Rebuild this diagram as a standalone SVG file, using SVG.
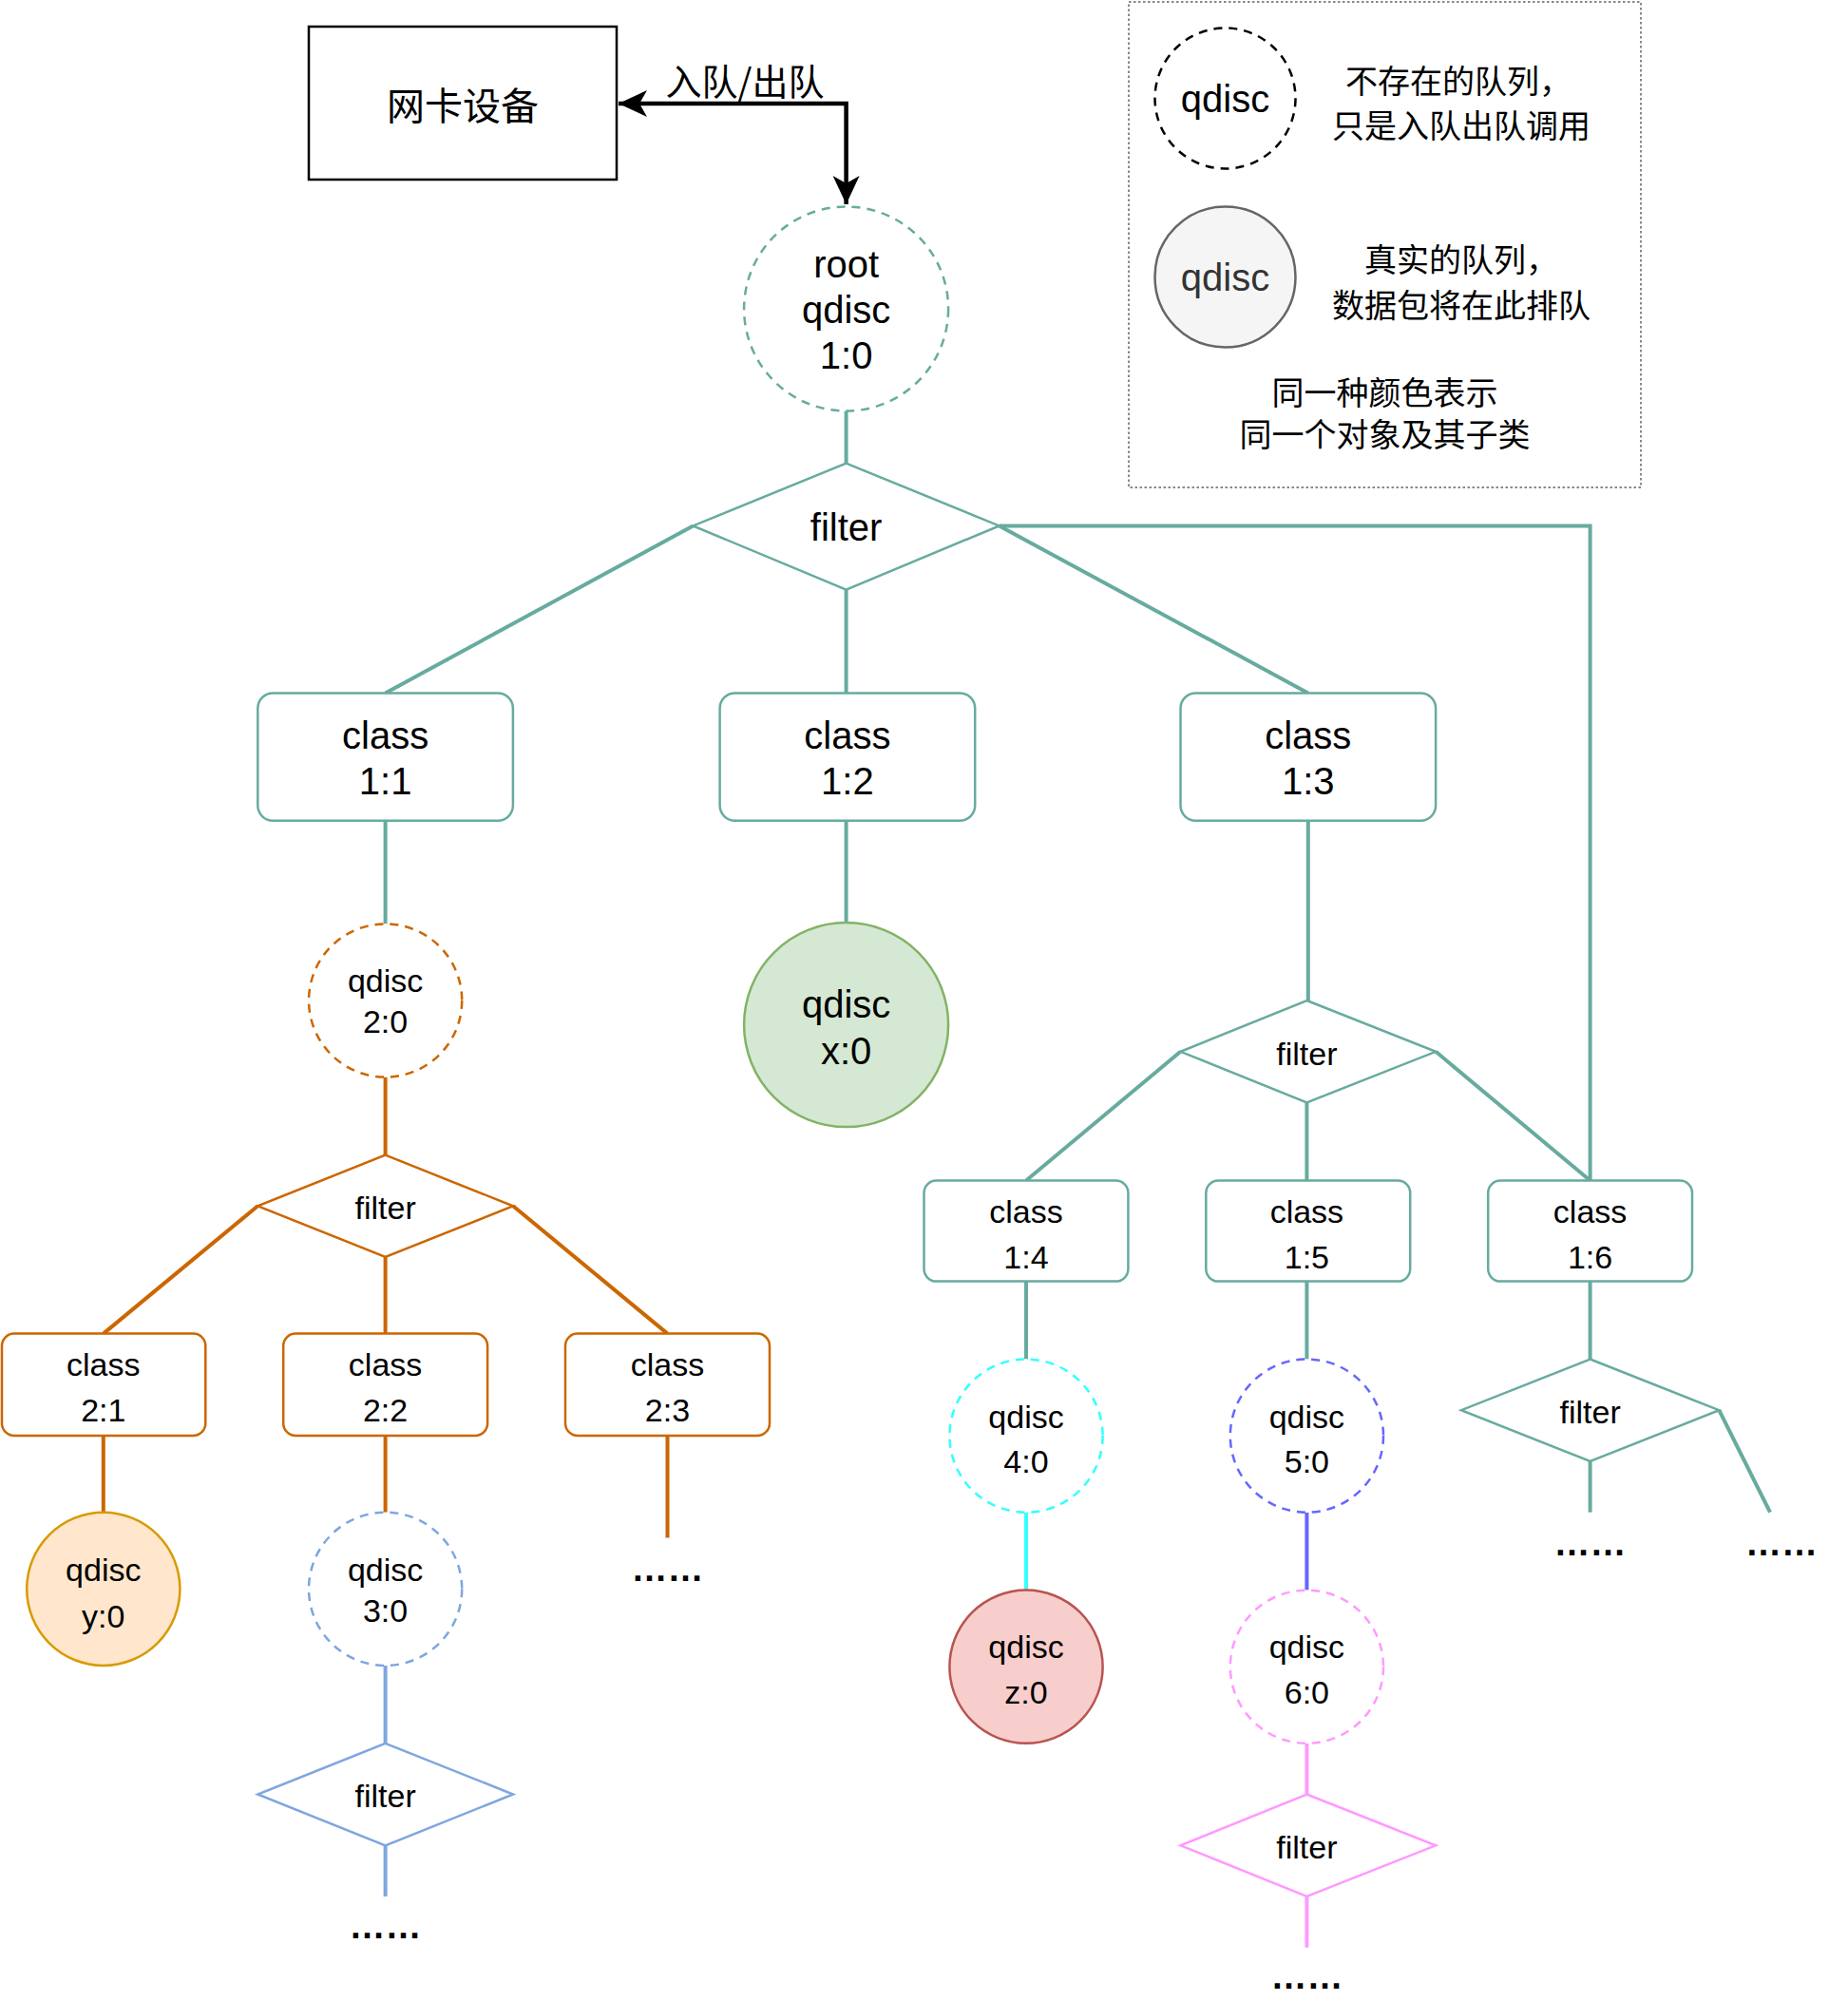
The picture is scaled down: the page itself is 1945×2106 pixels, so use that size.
<svg xmlns="http://www.w3.org/2000/svg" width="1945" height="2106" viewBox="0 0 1945 2106">
<defs>
<style>
text{font-family:"Liberation Sans","Noto Sans CJK SC",sans-serif;fill:#000;text-anchor:middle;dominant-baseline:central}
.big{font-size:40px}
.mid{font-size:34px}
.cjk{font-size:34px;font-family:"Noto Sans CJK SC","Liberation Sans",sans-serif}
.dots{font-size:38px;font-weight:bold;dominant-baseline:alphabetic}
.c{fill:none;stroke-width:4}
.teal{stroke:#67AB9F}
.org{stroke:#CC6600}
.blue{stroke:#7EA6E0}
.cyan{stroke:#33FFFF}
.vio{stroke:#6666FF}
.pink{stroke:#FF99FF}
.box{fill:#fff;stroke-width:2.5}
.dash{fill:#fff;stroke-width:2.5;stroke-dasharray:9 7}
</style>
<marker id="ah" markerUnits="userSpaceOnUse" markerWidth="32" markerHeight="32" viewBox="0 -16 32 32" refX="30" refY="0" orient="auto-start-reverse">
<path d="M0,-14 L30,0 L0,14 L8,0 Z" fill="#000"/>
</marker>
</defs>
<rect width="1945" height="2106" fill="#fff"/>

<g id="connectors">
<path d="M651,109 H890.6 V215" fill="none" stroke="#000" stroke-width="4.5" marker-start="url(#ah)" marker-end="url(#ah)"/>
<path class="c teal" d="M890.6,432.5 V487.6"/>
<path class="c teal" d="M729.4,553.4 L405.6,729.4"/>
<path class="c teal" d="M890.6,620.6 V729.4"/>
<path class="c teal" d="M1051.7,553.4 L1376.8,729.4"/>
<path class="c teal" d="M1051.7,553.4 H1673.6 V1242.5"/>
<path class="c teal" d="M405.6,863.7 V972.4"/>
<path class="c teal" d="M890.6,863.7 V971.1"/>
<path class="c teal" d="M1376.8,863.7 V1053"/>
<path class="c teal" d="M1242.5,1106.8 L1080,1242.5"/>
<path class="c teal" d="M1375.4,1160.5 V1242.5"/>
<path class="c teal" d="M1511.1,1106.8 L1673.6,1242.5"/>
<path class="c teal" d="M1080,1348.6 V1430.5"/>
<path class="c teal" d="M1375.4,1348.6 V1430.5"/>
<path class="c teal" d="M1673.6,1348.6 V1430.5"/>
<path class="c teal" d="M1673.6,1538 V1591.7"/>
<path class="c teal" d="M1809.3,1484.2 L1863,1591.7"/>
<path class="c org" d="M405.6,1133.6 V1215.6"/>
<path class="c org" d="M271.3,1269.3 L108.8,1403.6"/>
<path class="c org" d="M405.6,1323 V1403.6"/>
<path class="c org" d="M540,1269.3 L702.5,1403.6"/>
<path class="c org" d="M108.8,1511 V1591.7"/>
<path class="c org" d="M405.6,1511 V1591.7"/>
<path class="c org" d="M702.5,1511 V1618.5"/>
<path class="c blue" d="M405.6,1752.9 V1834.8"/>
<path class="c blue" d="M405.6,1942.3 V1996"/>
<path class="c cyan" d="M1080,1591.7 V1673.6"/>
<path class="c vio" d="M1375.4,1591.7 V1673.6"/>
<path class="c pink" d="M1375.4,1834.8 V1888.5"/>
<path class="c pink" d="M1375.4,1996 V2049.7"/>
</g>

<g id="nic">
<rect x="325" y="28" width="324" height="161" fill="#fff" stroke="#000" stroke-width="2.5"/>
<text x="487" y="109" class="cjk" style="font-size:40px">网卡设备</text>
</g>
<text id="arrow-label" x="784" y="83" class="cjk" style="font-size:38px">入队/出队</text>

<g id="legend">
<rect x="1188" y="2" width="539" height="511" fill="none" stroke="#888" stroke-width="2" stroke-dasharray="2.5 2.5"/>
<circle cx="1289.5" cy="103.5" r="74" fill="#fff" stroke="#000" stroke-width="2.5" stroke-dasharray="9 7"/>
<text x="1289.5" y="103.5" class="big">qdisc</text>
<text x="1535" y="83" class="cjk">不存在的队列，</text>
<text x="1538" y="130" class="cjk">只是入队出队调用</text>
<circle cx="1289.5" cy="291.5" r="74" fill="#F5F5F5" stroke="#666" stroke-width="2.5"/>
<text x="1289.5" y="291.5" class="big" style="fill:#333">qdisc</text>
<text x="1538" y="271" class="cjk">真实的队列，</text>
<text x="1538" y="319.5" class="cjk">数据包将在此排队</text>
<text x="1457.4" y="411" class="cjk">同一种颜色表示</text>
<text x="1457.4" y="455.3" class="cjk">同一个对象及其子类</text>
</g>

<g id="root-qdisc">
<circle cx="890.6" cy="325" r="107.5" class="dash teal"/>
<text x="890.6" y="278" class="big">root</text>
<text x="890.6" y="326" class="big">qdisc</text>
<text x="890.6" y="374" class="big">1:0</text>
</g>
<g id="filter-1">
<polygon points="890.6,487.6 1051.7,553.4 890.6,620.6 729.4,553.4" class="box teal"/>
<text x="890.6" y="555" class="big">filter</text>
</g>
<g id="class-1-1">
<rect x="271.3" y="729.4" width="268.6" height="134.3" rx="16" class="box teal"/>
<text x="405.6" y="773.7" class="big">class</text>
<text x="405.6" y="822" class="big">1:1</text>
</g>
<g id="class-1-2">
<rect x="757.6" y="729.4" width="268.6" height="134.3" rx="16" class="box teal"/>
<text x="891.9" y="773.7" class="big">class</text>
<text x="891.9" y="822" class="big">1:2</text>
</g>
<g id="class-1-3">
<rect x="1242.5" y="729.4" width="268.6" height="134.3" rx="16" class="box teal"/>
<text x="1376.8" y="773.7" class="big">class</text>
<text x="1376.8" y="822" class="big">1:3</text>
</g>

<g id="qdisc-2-0">
<circle cx="405.6" cy="1053" r="80.6" class="dash org"/>
<text x="405.6" y="1031.6" class="mid">qdisc</text>
<text x="405.6" y="1074.6" class="mid">2:0</text>
</g>
<g id="filter-2">
<polygon points="405.6,1215.6 540,1269.3 405.6,1323 271.3,1269.3" class="box org"/>
<text x="405.6" y="1271" class="mid">filter</text>
</g>
<g id="class-2-1">
<rect x="2" y="1403.6" width="214.3" height="107.4" rx="13" class="box org"/>
<text x="108.8" y="1436" class="mid">class</text>
<text x="108.8" y="1484.3" class="mid">2:1</text>
</g>
<g id="class-2-2">
<rect x="298.2" y="1403.6" width="214.9" height="107.4" rx="13" class="box org"/>
<text x="405.6" y="1436" class="mid">class</text>
<text x="405.6" y="1484.3" class="mid">2:2</text>
</g>
<g id="class-2-3">
<rect x="595" y="1403.6" width="215" height="107.4" rx="13" class="box org"/>
<text x="702.5" y="1436" class="mid">class</text>
<text x="702.5" y="1484.3" class="mid">2:3</text>
</g>
<text x="702.5" y="1664" class="dots">……</text>
<g id="qdisc-y-0">
<circle cx="108.8" cy="1672.3" r="80.6" fill="#FFE6CC" stroke="#D79B00" stroke-width="2.5"/>
<text x="108.8" y="1652" class="mid">qdisc</text>
<text x="108.8" y="1700.5" class="mid">y:0</text>
</g>
<g id="qdisc-3-0">
<circle cx="405.6" cy="1672.3" r="80.6" class="dash blue"/>
<text x="405.6" y="1652" class="mid">qdisc</text>
<text x="405.6" y="1695" class="mid">3:0</text>
</g>
<g id="filter-3">
<polygon points="405.6,1834.8 540,1888.5 405.6,1942.3 271.3,1888.5" class="box blue"/>
<text x="405.6" y="1890" class="mid">filter</text>
</g>
<text x="405.6" y="2040" class="dots">……</text>

<g id="qdisc-x-0">
<circle cx="890.6" cy="1078.6" r="107.5" fill="#D5E8D4" stroke="#82B366" stroke-width="2.5"/>
<text x="890.6" y="1057" class="big">qdisc</text>
<text x="890.6" y="1105.5" class="big">x:0</text>
</g>

<g id="filter-4">
<polygon points="1375.4,1053 1511.1,1106.8 1375.4,1160.5 1242.5,1106.8" class="box teal"/>
<text x="1375.4" y="1108.5" class="mid">filter</text>
</g>
<g id="class-1-4">
<rect x="972.5" y="1242.5" width="214.9" height="106.1" rx="13" class="box teal"/>
<text x="1080" y="1274.7" class="mid">class</text>
<text x="1080" y="1323" class="mid">1:4</text>
</g>
<g id="class-1-5">
<rect x="1269.3" y="1242.5" width="214.9" height="106.1" rx="13" class="box teal"/>
<text x="1375.4" y="1274.7" class="mid">class</text>
<text x="1375.4" y="1323" class="mid">1:5</text>
</g>
<g id="class-1-6">
<rect x="1566.2" y="1242.5" width="214.8" height="106.1" rx="13" class="box teal"/>
<text x="1673.6" y="1274.7" class="mid">class</text>
<text x="1673.6" y="1323" class="mid">1:6</text>
</g>
<g id="qdisc-4-0">
<circle cx="1080" cy="1511.1" r="80.6" class="dash cyan"/>
<text x="1080" y="1491" class="mid">qdisc</text>
<text x="1080" y="1538" class="mid">4:0</text>
</g>
<g id="qdisc-z-0">
<circle cx="1080" cy="1754.2" r="80.6" fill="#F8CECC" stroke="#B85450" stroke-width="2.5"/>
<text x="1080" y="1732.7" class="mid">qdisc</text>
<text x="1080" y="1781" class="mid">z:0</text>
</g>
<g id="qdisc-5-0">
<circle cx="1375.4" cy="1511.1" r="80.6" class="dash vio"/>
<text x="1375.4" y="1491" class="mid">qdisc</text>
<text x="1375.4" y="1538" class="mid">5:0</text>
</g>
<g id="qdisc-6-0">
<circle cx="1375.4" cy="1754.2" r="80.6" class="dash pink"/>
<text x="1375.4" y="1732.7" class="mid">qdisc</text>
<text x="1375.4" y="1781" class="mid">6:0</text>
</g>
<g id="filter-5">
<polygon points="1375.4,1888.5 1511.1,1942.3 1375.4,1996 1242.5,1942.3" class="box pink"/>
<text x="1375.4" y="1944" class="mid">filter</text>
</g>
<text x="1375.4" y="2093" class="dots">……</text>
<g id="filter-6">
<polygon points="1673.6,1430.5 1809.3,1484.2 1673.6,1538 1538,1484.2" class="box teal"/>
<text x="1673.6" y="1486" class="mid">filter</text>
</g>
<text x="1673.6" y="1637" class="dots">……</text>
<text x="1875" y="1637" class="dots">……</text>
</svg>
